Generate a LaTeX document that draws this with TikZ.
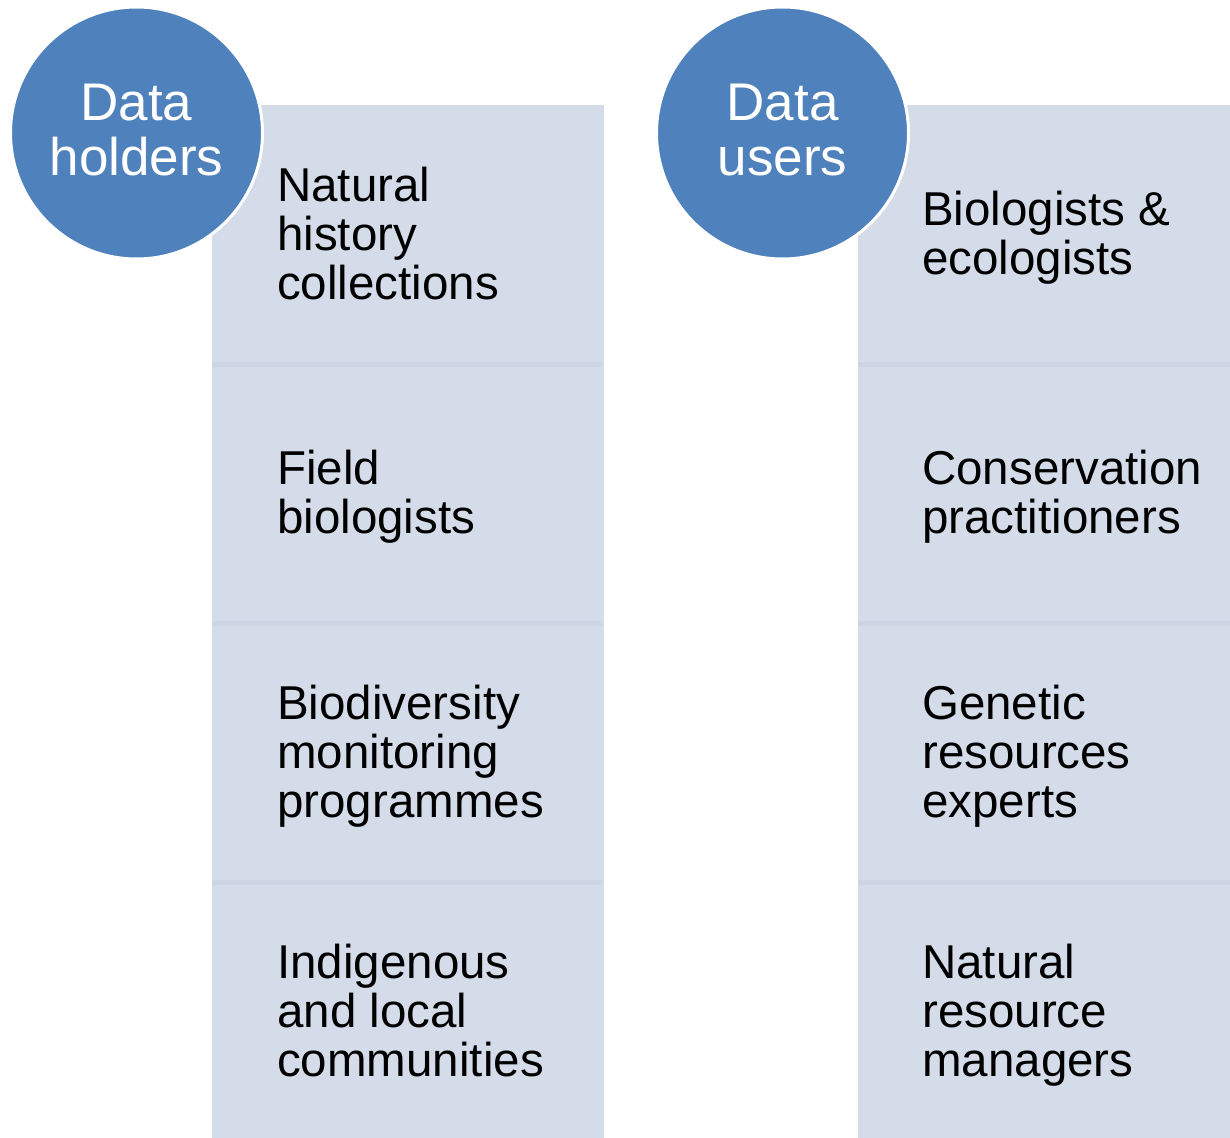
\documentclass[tikz,border=0pt]{standalone}
\usepackage{fontspec}
\setmainfont{Liberation Sans}
\definecolor{cellfill}{HTML}{D5DCE9}
\definecolor{cellband}{HTML}{CDD5E4}
\definecolor{circfill}{HTML}{4F81BD}
\newcommand\mytop{\rule{0pt}{42pt}}
\newcommand\mybot{\rule[-11pt]{0pt}{0pt}}
\begin{document}
\begin{tikzpicture}[x=1pt,y=-1pt,
  cell/.style={rectangle, fill=cellfill, draw=none, minimum height=259pt, inner sep=0pt, anchor=north west},
  band/.style={fill=cellband, draw=none},
  txt/.style={anchor=west, align=left, inner sep=0pt, text=black, font=\fontsize{47.5}{49}\selectfont},
  bigcirc/.style={circle, fill=circfill, draw=white, line width=3pt, minimum size=252pt, inner sep=0pt},
  circtxt/.style={align=center, inner sep=0pt, text=white, font=\fontsize{53}{55}\selectfont}]
\useasboundingbox[fill=white] (0,0) rectangle (1230,1137);
\begin{scope}
\clip (0,0) rectangle (1230,1137);
% left column cells
\node[cell, minimum width=392pt] (h1) at (212,105) {};
\node[cell, minimum width=392pt] (h2) at (212,364) {};
\node[cell, minimum width=392pt] (h3) at (212,623) {};
\node[cell, minimum width=392pt] (h4) at (212,882) {};
% right column cells
\node[cell, minimum width=380pt] (u1) at (858,105) {};
\node[cell, minimum width=380pt] (u2) at (858,364) {};
\node[cell, minimum width=380pt] (u3) at (858,623) {};
\node[cell, minimum width=380pt] (u4) at (858,882) {};
% separator bands
\foreach \b in {h2,h3,h4}{
  \fill[band] ([yshift=-2.5pt]\b.north west) rectangle ([yshift=2.5pt,xshift=-2pt]\b.north east);
}
\foreach \b in {u2,u3,u4}{
  \fill[band] ([yshift=-2.5pt]\b.north west) rectangle ([yshift=2.5pt]\b.north east);
}
\draw[white, line width=1.2pt] (h1.north east) -- (h4.south east);
\end{scope}
% texts
\node[txt] (th1) at ([xshift=65pt]h1.west) {\mytop Natural\\history\\collections\mybot};
\node[txt] (th2) at ([xshift=65pt]h2.west) {\mytop Field\\biologists\mybot};
\node[txt] (th3) at ([xshift=65pt]h3.west) {\mytop Biodiversity\\monitoring\\programmes\mybot};
\node[txt] (th4) at ([xshift=65pt]h4.west) {\mytop Indigenous\\and local\\communities\mybot};
\node[txt] (tu1) at ([xshift=64pt]u1.west) {\mytop Biologists \&\\ecologists\mybot};
\node[txt] (tu2) at ([xshift=64pt]u2.west) {\mytop Conservation\\practitioners\mybot};
\node[txt] (tu3) at ([xshift=64pt]u3.west) {\mytop Genetic\\resources\\experts\mybot};
\node[txt] (tu4) at ([xshift=64pt]u4.west) {\mytop Natural\\resource\\managers\mybot};
% circles
\node[bigcirc] (ch) at (136.5,133) {};
\node[circtxt] (cht) at (136.5,130) {Data\\holders};
\node[bigcirc] (cu) at (782.5,133) {};
\node[circtxt] (cut) at (782.5,130) {Data\\users};
\end{tikzpicture}
\end{document}
